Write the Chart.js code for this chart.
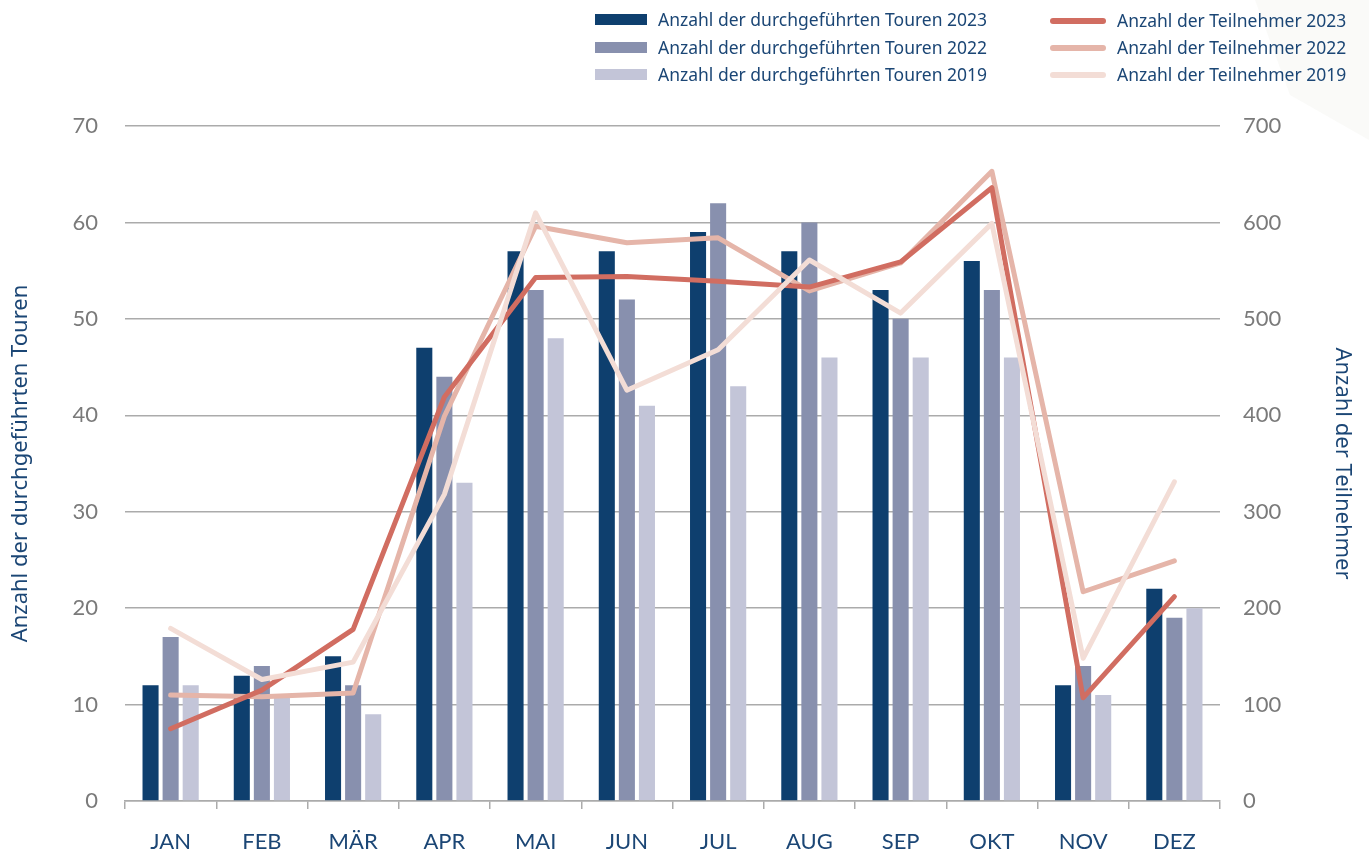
<!DOCTYPE html>
<html>
<head>
<meta charset="utf-8">
<script src="https://cdn.jsdelivr.net/npm/chart.js@4/dist/chart.umd.min.js"></script>
<style>
  html, body { margin: 0; padding: 0; background: #fff; }
  #wrap { position: relative; width: 1369px; height: 855px; overflow: hidden; }
  #bgshape { position: absolute; left: 0; top: 0; width: 1369px; height: 855px;
    background: #f6f7f3; clip-path: polygon(1255px 0, 1369px 0, 1369px 140px, 1290px 95px); opacity: 0.6; }
  canvas { position: absolute; left: 0; top: 0; }
  .leg { position: absolute; font-family: "Noto Sans", sans-serif; font-size: 17.5px; color: #1b4675; white-space: nowrap; line-height: 20px; }
  .sw { position: absolute; }
</style>
</head>
<body>
<div id="wrap">
  <div id="bgshape"></div>
  <canvas id="c" width="1369" height="855"></canvas>
  <div id="legend"></div>
</div>
<script>
const months = ['JAN','FEB','MÄR','APR','MAI','JUN','JUL','AUG','SEP','OKT','NOV','DEZ'];
const tours2023 = [12, 13, 15, 47, 57, 57, 59, 57, 53, 56, 12, 22];
const tours2022 = [17, 14, 12, 44, 53, 52, 62, 60, 50, 53, 14, 19];
const tours2019 = [12, 11, 9, 33, 48, 41, 43, 46, 46, 46, 11, 20];
const part2023 = [75, 115, 178, 419, 543, 544, 539, 533, 559, 636, 107, 212];
const part2022 = [110, 108, 112, 399, 596, 579, 584, 529, 558, 653, 217, 249];
const part2019 = [179, 126, 144, 318, 610, 426, 468, 561, 506, 599, 148, 331];
const leftTicks = [0, 10, 20, 30, 40, 50, 60, 70];
const rightTicks = [0, 100, 200, 300, 400, 500, 600, 700];

const labelTours = 'Anzahl der durchgeführten Touren';
const labelPart = 'Anzahl der Teilnehmer';

const cNavy = '#0e3f6e', cMid = '#8890ae', cLight = '#c3c5d8';
const cL23 = '#d16d61', cL22 = '#e5b5a9', cL19 = '#f3ddd6';
const gridCol = '#ababab';

const lineDs = (label, data, color, order) => ({
  type: 'line', label, data, yAxisID: 'y1', borderColor: color, backgroundColor: color,
  borderWidth: 5, pointRadius: 0, tension: 0, order,
  borderCapStyle: 'round', borderJoinStyle: 'round', fill: false
});
const barDs = (label, data, color) => ({
  type: 'bar', label, data, yAxisID: 'y', backgroundColor: color, borderWidth: 0,
  categoryPercentage: 0.66, barPercentage: 0.8, order: 5
});

new Chart(document.getElementById('c'), {
  data: {
    labels: months,
    datasets: [
      lineDs(labelPart + ' 2019', part2019, cL19, 0),
      lineDs(labelPart + ' 2023', part2023, cL23, 1),
      lineDs(labelPart + ' 2022', part2022, cL22, 2),
      barDs(labelTours + ' 2023', tours2023, cNavy),
      barDs(labelTours + ' 2022', tours2022, cMid),
      barDs(labelTours + ' 2019', tours2019, cLight)
    ]
  },
  options: {
    responsive: false,
    animation: false,
    events: [],
    layout: { padding: { top: 126, bottom: 0, left: 0, right: 0 } },
    plugins: { legend: { display: false }, tooltip: { enabled: false } },
    scales: {
      x: {
        offset: true,
        grid: { display: true, drawOnChartArea: false, drawTicks: true, tickLength: 8, color: gridCol, lineWidth: 1.5, offset: true },
        border: { display: true, color: gridCol, width: 1.5 },
        ticks: { color: '#1b4675', font: { family: 'Lato', size: 22 }, padding: 20 },
        afterFit: s => { s.height = 54; }
      },
      y: {
        position: 'left', min: 0, max: 70,
        afterBuildTicks: s => { s.ticks = leftTicks.map(v => ({ value: v })); },
        grid: { color: gridCol, lineWidth: 1.5, drawTicks: false },
        border: { display: false },
        ticks: { color: '#7a7a7a', font: { family: 'Lato', size: 22 }, padding: 27 },
        title: { display: true, text: labelTours, color: '#1b4675', font: { family: 'Noto Sans', size: 22 }, padding: { top: 8, bottom: 0 } },
        afterFit: s => { s.width = 125; }
      },
      y1: {
        position: 'right', min: 0, max: 700,
        afterBuildTicks: s => { s.ticks = rightTicks.map(v => ({ value: v })); },
        grid: { drawOnChartArea: false, drawTicks: false },
        border: { display: false },
        ticks: { color: '#7a7a7a', font: { family: 'Lato', size: 22 }, padding: 23 },
        title: { display: true, text: labelPart, color: '#1b4675', font: { family: 'Noto Sans', size: 22 }, padding: { top: 14, bottom: 0 } },
        afterFit: s => { s.width = 149; }
      }
    }
  }
});

// HTML legend (two columns)
const legendItems = [
  { text: labelTours + ' 2023', color: cNavy, kind: 'bar', x: 595, y: 20 },
  { text: labelTours + ' 2022', color: cMid, kind: 'bar', x: 595, y: 48 },
  { text: labelTours + ' 2019', color: cLight, kind: 'bar', x: 595, y: 75 },
  { text: labelPart + ' 2023', color: cL23, kind: 'line', x: 1050, y: 21 },
  { text: labelPart + ' 2022', color: cL22, kind: 'line', x: 1050, y: 48 },
  { text: labelPart + ' 2019', color: cL19, kind: 'line', x: 1050, y: 75 }
];
const lg = document.getElementById('legend');
legendItems.forEach(it => {
  const sw = document.createElement('div');
  sw.className = 'sw';
  if (it.kind === 'bar') {
    Object.assign(sw.style, { left: it.x + 'px', top: (it.y - 6) + 'px', width: '52px', height: '11px', background: it.color });
  } else {
    Object.assign(sw.style, { left: it.x + 'px', top: (it.y - 3) + 'px', width: '56px', height: '6px', background: it.color, borderRadius: '3px' });
  }
  lg.appendChild(sw);
  const t = document.createElement('div');
  t.className = 'leg';
  t.textContent = it.text;
  Object.assign(t.style, { left: (it.kind === 'bar' ? 658 : 1117) + 'px', top: (it.y - 11) + 'px' });
  lg.appendChild(t);
});
</script>
</body>
</html>
